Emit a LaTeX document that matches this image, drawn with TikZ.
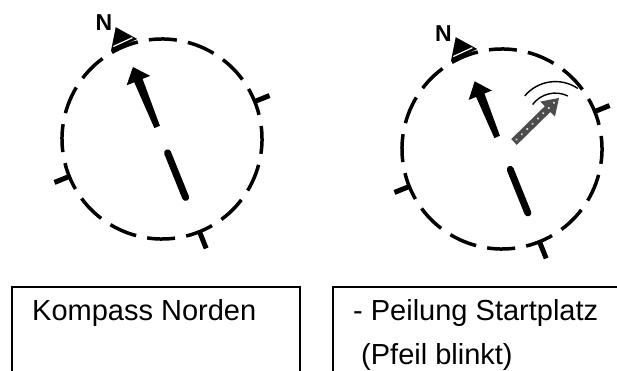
\documentclass[tikz,border=0pt]{standalone}
\usepackage{fontspec}
\setmainfont{Liberation Sans}
\begin{document}
\begin{tikzpicture}[x=1pt,y=1pt,
  ring/.style={line width=3.5pt, dash pattern=on 28pt off 11.27pt, dash phase=14pt},
  tickmark/.style={line width=5pt},
  boxline/.style={line width=2pt},
  txt/.style={font=\fontsize{29}{35}\selectfont, inner sep=0pt, anchor=base west},
  nlabel/.style={font=\fontsize{23}{23}\selectfont\bfseries, inner sep=0pt},
  wave/.style={line width=1.4pt},
  bearing/.style={fill=black!70}
]
\useasboundingbox (0,0) rectangle (617,-371);

% ---------- left compass ----------
\begin{scope}[shift={(162,-139)}, rotate=22]
  \draw[ring] (0,0) circle (100);
  \draw[tickmark] (100,0) -- (116,0);
  \draw[tickmark] (-100,0) -- (-116,0);
  \draw[tickmark] (0,-100) -- (0,-118);
  \fill (-14.5,100.5) -- (-1,121) -- (14.5,102) -- cycle;
  \draw[white, line width=1.2pt] (-10.5,104) -- (10.5,105);
  \fill (-3,13) -- (-4.5,63) -- (-12.7,63) -- (0,77.6) -- (12.7,63) -- (4.5,63) -- (3,13) -- cycle;
  \draw[line width=7pt, line cap=round] (0,-15) -- (0,-63);
\end{scope}
\node[nlabel] (nleft) at (104,-23) {N};

% ---------- right compass ----------
\begin{scope}[shift={(502,-149)}, rotate=22]
  \draw[ring] (0,0) circle (100);
  \draw[tickmark] (100,0) -- (116,0);
  \draw[tickmark] (-100,0) -- (-116,0);
  \draw[tickmark] (0,-100) -- (0,-118);
  \fill (-14.5,100.5) -- (-1,121) -- (14.5,102) -- cycle;
  \draw[white, line width=1.2pt] (-10.5,104) -- (10.5,105);
  \fill (-3,13) -- (-4.5,58) -- (-12.5,58) -- (0,73) -- (12.5,58) -- (4.5,58) -- (3,13) -- cycle;
  \draw[line width=7pt, line cap=round] (0,-22) -- (0,-69);
\end{scope}
\node[nlabel] (nright) at (443.5,-33.5) {N};

% bearing arrow (blinking)
\begin{scope}[shift={(514,-142)}, rotate=44.4]
  \fill[bearing] (0,-4) -- (47,-4) -- (47,-10.5) -- (63,0) -- (47,10.5) -- (47,4) -- (0,4) -- cycle;
  \foreach \x in {3.5,11,...,56} \fill[white!85!black] (\x,0) circle (1.2);
\end{scope}
\draw[wave] (555.4,-121.6) ++(56:40) arc[start angle=56, end angle=140, radius=40];
\draw[wave] (555.4,-121.6) ++(64:28.5) arc[start angle=64, end angle=143, radius=28.5];

% ---------- boxes ----------
\draw[boxline] (12,-375) -- (12,-287) -- (300,-287) -- (300,-375);
\draw[boxline] (333,-375) -- (333,-287) -- (620,-287);
\node[txt] (t1) at (32,-320) {Kompass Norden};
\node[txt] (t2) at (353,-320) {- Peilung Startplatz};
\node[txt] (t3) at (361,-364) {(Pfeil blinkt)};
\end{tikzpicture}
\end{document}
